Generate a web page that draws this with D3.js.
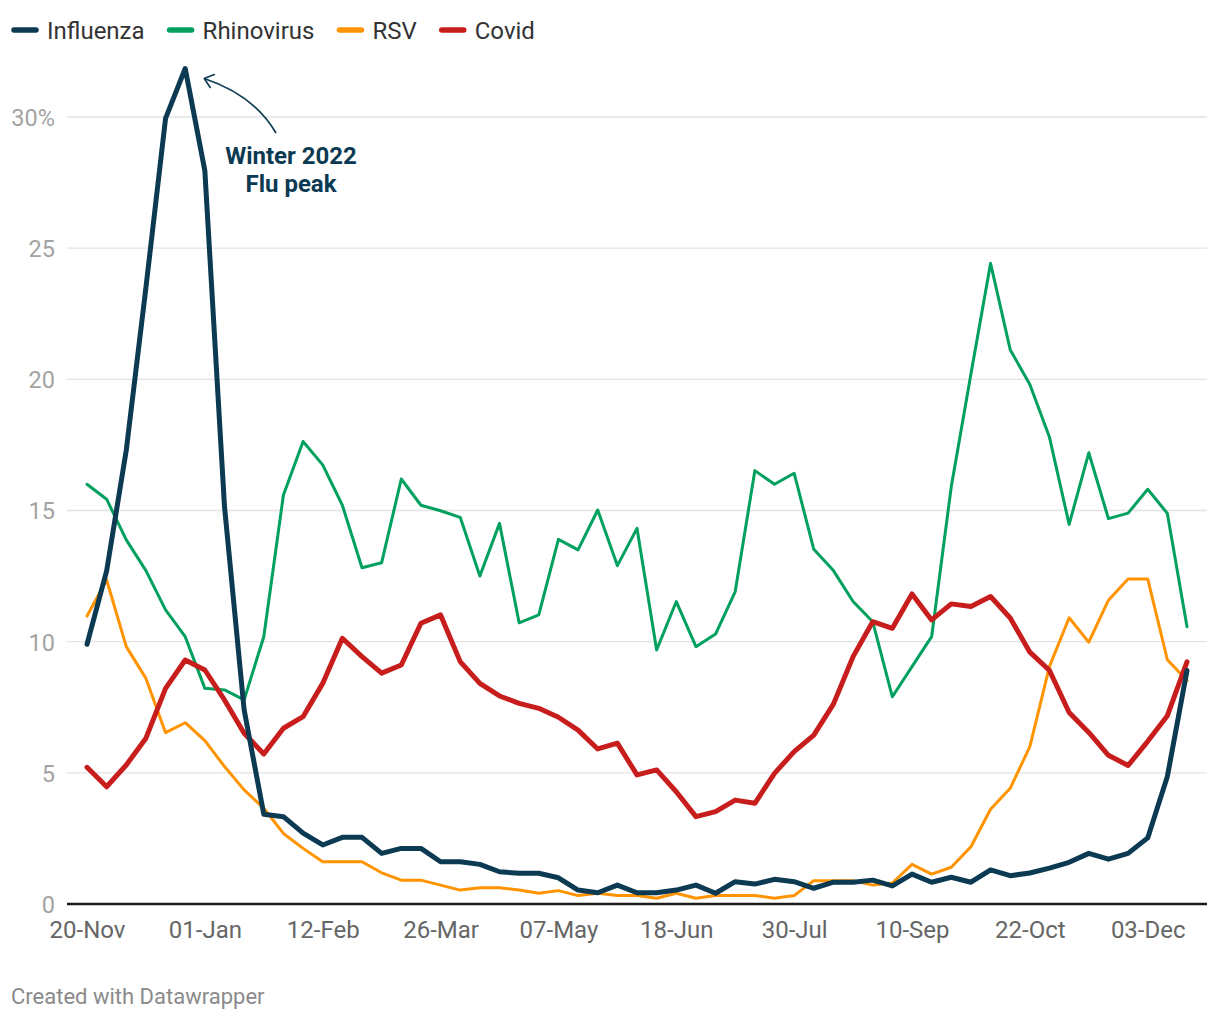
<!DOCTYPE html>
<html>
<head>
<meta charset="utf-8">
<script src="https://cdn.jsdelivr.net/npm/d3@7"></script>
<style>
  html, body { margin: 0; padding: 0; background: #fff; }
  svg { display: block; font-family: Roboto, "Noto Sans", sans-serif; }
</style>
</head>
<body>
<svg id="chart" width="1220" height="1020"></svg>
<script>
// ---- DATA ----
const startDate = "2022-11-20";
const weekCount = 57;
const seriesNames = ["Influenza", "Rhinovirus", "RSV", "Covid"];
const seriesColors = ["#0b3a52", "#00a05e", "#ff9300", "#c71e1d"];

const influenza = [9.9, 12.7, 17.3, 23.5, 29.95, 31.85, 27.95, 15.15, 7.4, 3.42,
  3.33, 2.7, 2.25, 2.54, 2.54, 1.93, 2.12, 2.12, 1.61, 1.61,
  1.51, 1.23, 1.17, 1.17, 1.0, 0.53, 0.43, 0.72, 0.43, 0.43,
  0.53, 0.72, 0.41, 0.85, 0.76, 0.94, 0.85, 0.6, 0.83, 0.83,
  0.91, 0.69, 1.14, 0.83, 1.02, 0.83, 1.3, 1.08, 1.18, 1.37,
  1.59, 1.93, 1.71, 1.93, 2.52, 4.86, 8.9];
const rhinovirus = [16.0, 15.43, 13.88, 12.71, 11.21, 10.19, 8.22, 8.16, 7.78, 10.19,
  15.59, 17.63, 16.74, 15.2, 12.82, 13.01, 16.2, 15.2, 14.99, 14.74,
  12.5, 14.51, 10.72, 11.02, 13.9, 13.5, 15.02, 12.9, 14.32, 9.68,
  11.53, 9.81, 10.29, 11.91, 16.52, 16.0, 16.42, 13.52, 12.71, 11.53,
  10.76, 7.9, 9.05, 10.19, 15.91, 20.2, 24.42, 21.13, 19.8, 17.79,
  14.47, 17.2, 14.69, 14.9, 15.81, 14.89, 10.57];
const rsv = [10.98, 12.35, 9.81, 8.6, 6.53, 6.91, 6.23, 5.24, 4.35, 3.65,
  2.69, 2.12, 1.61, 1.61, 1.61, 1.19, 0.91, 0.91, 0.72, 0.53,
  0.62, 0.62, 0.53, 0.41, 0.51, 0.32, 0.41, 0.32, 0.32, 0.22,
  0.41, 0.22, 0.32, 0.32, 0.32, 0.22, 0.32, 0.89, 0.89, 0.89,
  0.72, 0.8, 1.51, 1.14, 1.4, 2.18, 3.61, 4.41, 6.0, 9.06,
  10.91, 9.98, 11.58, 12.39, 12.39, 9.31, 8.52];
const covid = [5.21, 4.47, 5.3, 6.32, 8.22, 9.3, 8.92, 7.78, 6.51, 5.72,
  6.7, 7.14, 8.41, 10.13, 9.43, 8.8, 9.11, 10.7, 11.02, 9.24,
  8.41, 7.93, 7.65, 7.46, 7.12, 6.63, 5.91, 6.13, 4.92, 5.11,
  4.28, 3.33, 3.52, 3.96, 3.84, 4.98, 5.81, 6.44, 7.62, 9.43,
  10.76, 10.51, 11.82, 10.83, 11.44, 11.34, 11.72, 10.9, 9.6, 8.9,
  7.3, 6.54, 5.67, 5.28, 6.2, 7.18, 9.23];

const xTickDates = ["2022-11-20", "2023-01-01", "2023-02-12", "2023-03-26", "2023-05-07",
  "2023-06-18", "2023-07-30", "2023-09-10", "2023-10-22", "2023-12-03"];
const xTickLabels = ["20-Nov", "01-Jan", "12-Feb", "26-Mar", "07-May",
  "18-Jun", "30-Jul", "10-Sep", "22-Oct", "03-Dec"];
const yTicks = [0, 5, 10, 15, 20, 25, 30];
const yTickLabels = ["0", "5", "10", "15", "20", "25", "30%"];
const annotationLines = ["Winter 2022", "Flu peak"];
const creditText = "Created with Datawrapper";

// ---- BUILD ----
const parse = d3.utcParse("%Y-%m-%d");
const t0 = parse(startDate);
const dates = d3.range(weekCount).map(i => d3.utcDay.offset(t0, i * 7));
const valuesBySeries = [influenza, rhinovirus, rsv, covid];

const svg = d3.select("#chart");

const x = d3.scaleUtc().domain([dates[0], dates[dates.length - 1]]).range([87, 1187]);
const y = d3.scaleLinear().domain([0, 30]).range([904, 117]);
const gridLeft = 67, gridRight = 1207;

// gridlines
svg.append("g").selectAll("line").data(yTicks.filter(d => d > 0)).join("line")
  .attr("x1", gridLeft).attr("x2", gridRight)
  .attr("y1", d => y(d)).attr("y2", d => y(d))
  .attr("stroke", "#e3e3e3").attr("stroke-width", 1.3);

// y axis labels
const yAxis = d3.axisLeft(y).tickValues(yTicks).tickSize(0).tickPadding(0)
  .tickFormat((d, i) => yTickLabels[i]);
const yg = svg.append("g").attr("transform", "translate(55,0)").call(yAxis);
yg.select(".domain").remove();
yg.selectAll("text").attr("font-size", 23.5).attr("fill", "#a3a3a3")
  .attr("font-family", "Roboto").attr("dy", "0.36em").attr("text-anchor", "end");

// x axis
const xAxis = d3.axisBottom(x).tickValues(xTickDates.map(parse)).tickSize(0).tickPadding(0)
  .tickFormat((d, i) => xTickLabels[i]);
const xg = svg.append("g").attr("transform", "translate(0,938)").call(xAxis);
xg.select(".domain").remove();
xg.selectAll("text").attr("font-size", 24).attr("fill", "#666").attr("font-family", "Roboto")
  .attr("dy", 0);

// lines (draw order: rhino, rsv, covid, influenza)
const widths = [5, 3, 3, 5];
const order = [1, 2, 3, 0];
const lineGen = d3.line().x((d, i) => x(dates[i])).y(d => y(d));
order.forEach(k => {
  svg.append("path").datum(valuesBySeries[k])
    .attr("d", lineGen).attr("fill", "none")
    .attr("stroke", seriesColors[k]).attr("stroke-width", widths[k])
    .attr("stroke-linejoin", "round").attr("stroke-linecap", "round");
});

// baseline
svg.append("line").attr("x1", gridLeft).attr("x2", gridRight)
  .attr("y1", y(0)).attr("y2", y(0)).attr("stroke", "#1a1a1a").attr("stroke-width", 2.4);

// legend
const lg = svg.append("g").attr("transform", "translate(0,30)");
let lx = 12;
seriesNames.forEach((name, k) => {
  lg.append("line").attr("x1", lx + 2).attr("x2", lx + 24).attr("y1", 0).attr("y2", 0)
    .attr("stroke", seriesColors[k]).attr("stroke-width", 5.5).attr("stroke-linecap", "round");
  const t = lg.append("text").attr("x", lx + 35).attr("y", 0).attr("dy", "0.36em")
    .attr("font-size", 24).attr("fill", "#333").attr("font-family", "Roboto").text(name);
  lx += 35 + t.node().getComputedTextLength() + 23;
});

// annotation
const ann = svg.append("text").attr("text-anchor", "middle").attr("font-family", "Roboto")
  .attr("font-weight", "bold").attr("font-size", 24).attr("fill", "#0b3a52");
annotationLines.forEach((s, i) => {
  ann.append("tspan").attr("x", 291).attr("y", 164 + i * 28).text(s);
});
// curved arrow
const px = x(dates[5]), py = y(influenza[5]);
const tipX = px + 19, tipY = py + 10;
const startX = 276, startY = 133;
svg.append("path")
  .attr("d", `M${startX},${startY} Q${254},${95} ${tipX},${tipY}`)
  .attr("fill", "none").attr("stroke", "#0b3a52").attr("stroke-width", 1.6);
svg.append("path")
  .attr("d", `M${tipX + 10},${tipY - 4} L${tipX},${tipY} L${tipX + 6},${tipY + 9}`)
  .attr("fill", "none").attr("stroke", "#0b3a52").attr("stroke-width", 1.6)
  .attr("stroke-linecap", "round").attr("stroke-linejoin", "round");

// credit
svg.append("text").attr("x", 11).attr("y", 1004).attr("font-size", 22)
  .attr("fill", "#8a8a8a").attr("font-family", "Roboto").text(creditText);
</script>
</body>
</html>
